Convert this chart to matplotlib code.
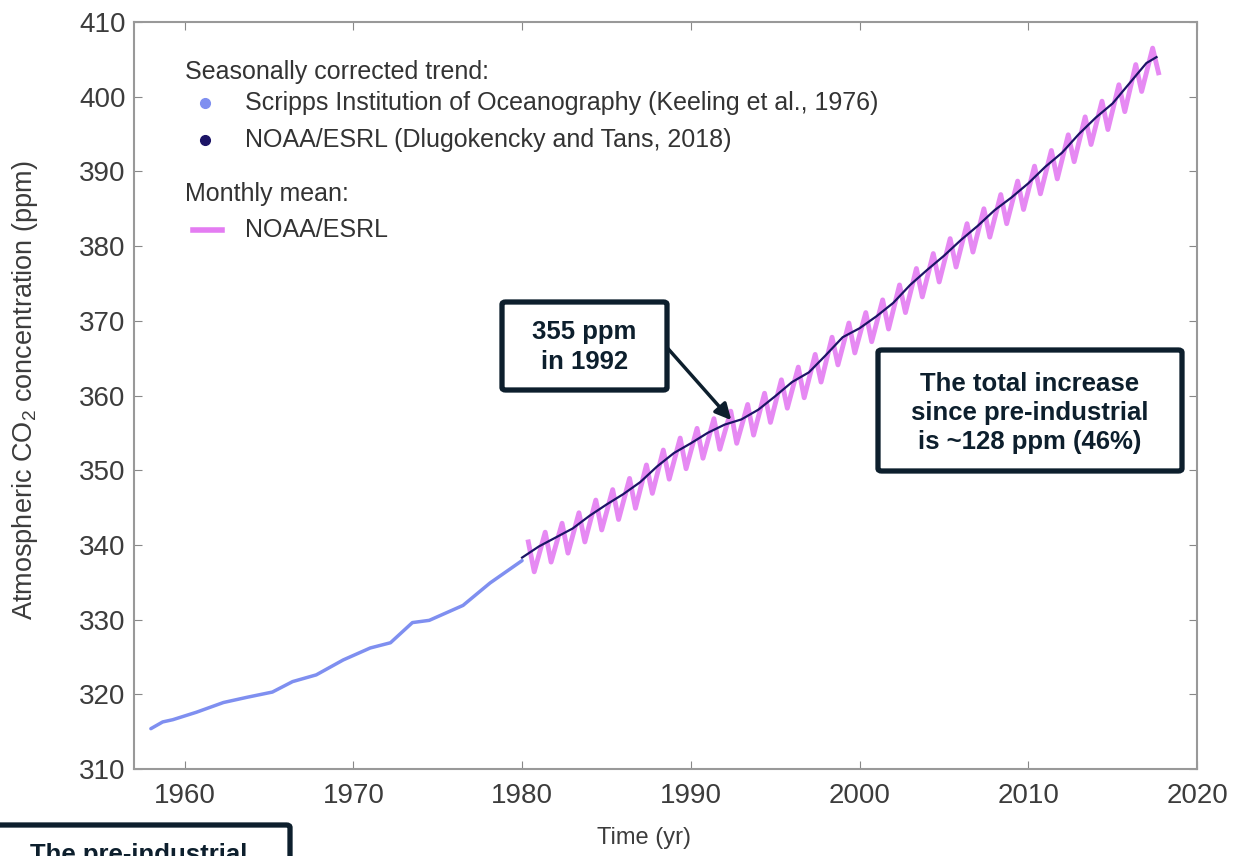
import matplotlib.pyplot as plt
from matplotlib.patches import FancyBboxPatch

plt.rcParams['font.family'] = ['Liberation Sans', 'DejaVu Sans']
plt.rcParams['mathtext.fontset'] = 'custom'
plt.rcParams['mathtext.rm'] = 'Liberation Sans'

# tendencia corrigida (Scripps)
scripps_anos = [1958.0, 1958.7, 1959.3, 1960.7, 1962.3, 1963.7, 1965.2, 1966.4, 1967.8,
                1969.4, 1971.0, 1972.2, 1973.5, 1974.5, 1976.5, 1978.1, 1980.0]
scripps_ppm = [315.4, 316.3, 316.6, 317.6, 318.9, 319.6, 320.3, 321.7, 322.6,
               324.6, 326.2, 326.9, 329.6, 329.9, 331.9, 334.9, 337.9]

# tendencia corrigida (NOAA/ESRL)
noaa_anos = list(range(1980, 2018)) + [2017.6]
noaa_ppm = [338.3, 339.8, 341.0, 342.2, 343.9, 345.4, 346.8, 348.4, 350.5, 352.3,
            353.6, 355.0, 356.1, 356.8, 358.1, 359.9, 361.8, 363.1, 365.4, 367.8,
            369.0, 370.6, 372.4, 374.8, 376.8, 378.7, 380.8, 382.7, 384.8, 386.5,
            388.4, 390.6, 392.5, 395.0, 397.2, 399.1, 401.8, 404.5, 405.3]

# media mensal: maximos (maio) e minimos (setembro) de cada ano
mensal_anos = list(range(1980, 2018))
mensal_max = [340.4, 341.7, 342.9, 344.3, 346.0, 347.4, 348.9, 350.7, 352.7, 354.3,
              355.6, 356.9, 357.9, 358.8, 360.3, 362.1, 363.8, 365.5, 367.8, 369.7,
              371.1, 372.8, 374.8, 377.0, 379.0, 381.0, 383.0, 385.0, 386.9, 388.7,
              390.7, 392.8, 394.9, 397.3, 399.4, 401.6, 404.3, 406.5]
mensal_min = [336.4, 337.7, 338.9, 340.4, 342.0, 343.4, 344.9, 346.9, 348.8, 350.2,
              351.6, 352.8, 353.6, 354.7, 356.4, 358.3, 359.7, 361.8, 364.1, 365.7,
              367.2, 368.9, 371.1, 373.2, 375.2, 377.2, 379.2, 381.2, 383.0, 384.9,
              387.0, 389.0, 391.3, 393.6, 395.6, 398.0, 400.7, 403.2]

W, H = 1234, 856
fig = plt.figure(figsize=(W / 100, H / 100), dpi=100)
ax = fig.add_axes([134 / W, 1 - 769 / H, 1063 / W, 747 / H])

# monta a serie mensal em zigue-zague
mx, my = [], []
for ano, alto, baixo in zip(mensal_anos, mensal_max, mensal_min):
    mx += [ano + 0.37, ano + 0.72]
    my += [alto, baixo]

ax.plot(scripps_anos, scripps_ppm, color='#7f8ff0', lw=2.5, solid_capstyle='round')
ax.plot(mx, my, color='#e47cf2', lw=3.5, alpha=0.9)
ax.plot(noaa_anos, noaa_ppm, color='#1c1466', lw=1.6)

ax.set_xlim(1957, 2020)
ax.set_ylim(310, 410)
ax.set_xticks(range(1960, 2021, 10))
ax.set_yticks(range(310, 411, 10))
ax.tick_params(direction='in', top=True, right=True, length=6, color='#888888',
               labelsize=20, labelcolor='#3c3c3c')
ax.tick_params(axis='y', pad=6)
ax.tick_params(axis='x', pad=10)
for sp in ax.spines.values():
    sp.set_color('#999999')
    sp.set_linewidth(1.5)

ax.set_ylabel(r'Atmospheric CO$_2$ concentration (ppm)', fontsize=19.5, color='#3c3c3c')
ax.yaxis.set_label_coords(-0.088, 0.507)
ax.set_xlabel('Time (yr)', fontsize=17, color='#3c3c3c')
ax.xaxis.set_label_coords(0.48, -0.077)

# legenda manual
def fx(px):
    return (px - 134) / 1063

def fy(py):
    return (769 - py) / 747

leg = dict(transform=ax.transAxes, fontsize=18, color='#333333', va='center')
ax.text(fx(185), fy(72), 'Seasonally corrected trend:', **leg)
ax.plot([fx(205)], [fy(103)], 'o', color='#7f8ff0', ms=7, transform=ax.transAxes)
ax.text(fx(245), fy(103), 'Scripps Institution of Oceanography (Keeling et al., 1976)', **leg)
ax.plot([fx(205)], [fy(140)], 'o', color='#1c1466', ms=7, transform=ax.transAxes)
ax.text(fx(245), fy(140), 'NOAA/ESRL (Dlugokencky and Tans, 2018)', **leg)
ax.text(fx(185), fy(194), 'Monthly mean:', **leg)
ax.plot([fx(193), fx(222)], [fy(230), fy(230)], color='#e47cf2', lw=4, transform=ax.transAxes)
ax.text(fx(245), fy(230), 'NOAA/ESRL', **leg)

# caixas de texto
escuro = '#0d1f2d'

def caixa(x0, y0, x1, y1):
    p = FancyBboxPatch((x0 / W, 1 - y1 / H), (x1 - x0) / W, (y1 - y0) / H,
                       boxstyle='round,pad=0,rounding_size=0.003',
                       transform=fig.transFigure, fc='white', ec=escuro, lw=3.8)
    fig.add_artist(p)

caixa(502, 302, 667, 390)
fig.text(584.5 / W, 1 - 347 / H, '355 ppm\nin 1992', ha='center', va='center',
         fontsize=18.5, weight='bold', color=escuro, linespacing=1.3)

caixa(878, 350, 1182, 471)
fig.text(1030 / W, 1 - 413 / H, 'The total increase\nsince pre-industrial\nis ~128 ppm (46%)',
         ha='center', va='center', fontsize=18.5, weight='bold', color=escuro, linespacing=1.25)

caixa(-20, 825, 290, 930)
fig.text(139 / W, 1 - 843 / H, 'The pre-industrial', ha='center', va='top',
         fontsize=18.5, weight='bold', color=escuro)

ax.annotate('', xy=(1992.4, 356.7), xytext=(1988.6, 366.4),
            arrowprops=dict(arrowstyle='-|>', lw=2.5, color=escuro, mutation_scale=24,
                            shrinkA=0, shrinkB=0))

fig.savefig('out.png', dpi=100)
